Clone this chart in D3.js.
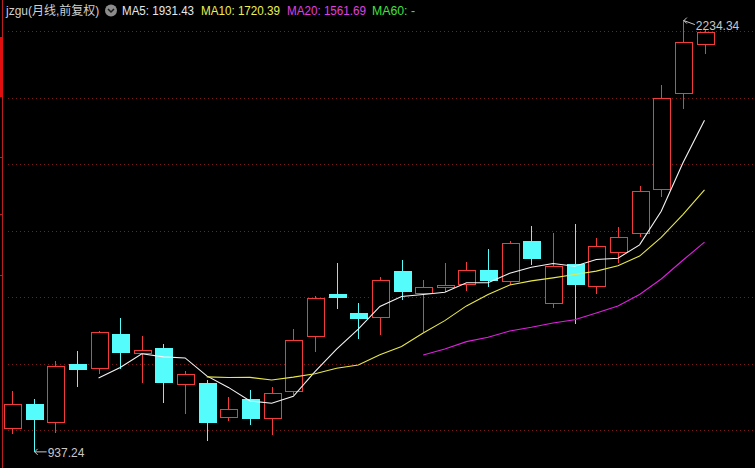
<!DOCTYPE html>
<html><head><meta charset="utf-8">
<script src="https://cdn.jsdelivr.net/npm/d3@7"></script>
<style>
html,body{margin:0;padding:0;background:#000;overflow:hidden;}
svg{display:block;}
text{font-family:"Liberation Sans","Noto Sans CJK SC",sans-serif;}
</style></head>
<body>
<svg id="c" width="755" height="468"></svg>
<script>
// ---- data (monthly bars) ----
const periods = ["1","2","3","4","5","6","7","8","9","10","11","12","13","14","15","16","17","18","19","20","21","22","23","24","25","26","27","28","29","30","31","32","33"];
const open  = [1005.1,1078.2,1025.0,1198.5,1187.4,1288.7,1230.7,1246.6,1137.4,1140.5,1040.0,1093.2,1037.0,1118.2,1283.6,1408.1,1352.8,1340.7,1478.2,1412.9,1429.2,1438.2,1481.2,1449.0,1567.5,1381.0,1498.3,1434.0,1536.2,1591.6,1723.9,2012.6,2160.0];
const high  = [1118.2,1093.2,1208.4,1237.6,1298.6,1335.9,1282.7,1258.6,1178.3,1150.4,1100.1,1120.3,1130.2,1303.8,1403.0,1503.2,1382.8,1461.0,1511.3,1451.1,1503.2,1506.2,1544.4,1567.5,1613.5,1591.6,1618.6,1578.3,1611.4,1734.7,2037.6,2234.34,2205.1];
const low   = [990.1,937.24,993.1,1132.3,1172.3,1185.6,1145.3,1085.1,1050.2,969.9,1030.1,1018.0,988.0,1107.4,1238.5,1367.8,1277.6,1288.7,1393.1,1298.6,1418.9,1421.1,1434.0,1438.2,1499.2,1370.8,1321.8,1411.1,1506.2,1583.5,1703.8,1969.3,2134.7];
const close = [1078.2,1034.0,1192.5,1183.5,1294.7,1235.5,1240.6,1145.3,1167.5,1025.0,1062.3,1037.0,1110.4,1270.7,1397.9,1400.9,1337.7,1451.1,1418.9,1429.2,1435.2,1480.3,1451.1,1561.5,1518.2,1493.2,1438.2,1553.4,1580.4,1718.8,1997.6,2166.0,2196.1];
const gridValues = [1000,1200,1400,1600,1800,2000,2200];
const maPeriods = [5,10,20];
const maColors = ["#f4f4f4","#e8e84a","#e020e0"];
const headerTitle = "jzgu(月线,前复权)";
const headerItems = [
  {label:"MA5: 1931.43", color:"#e8e8e8"},
  {label:"MA10: 1720.39", color:"#f0f050"},
  {label:"MA20: 1561.69", color:"#e040e0"},
  {label:"MA60: -", color:"#40e040"}
];
const maxLabel = "2234.34";
const minLabel = "937.24";

// ---- scales ----
const svg = d3.select("#c");
const x = d3.scalePoint().domain(periods).range([12, 704.5]);
const y = d3.scaleLinear().domain([1000, 2200]).range([430, 31]);
const RED = "#f23c3c", CYAN = "#54fcfc";
const px = v => Math.round(v) + 0.5;

// background
svg.append("rect").attr("width",755).attr("height",468).attr("fill","#000");

// grid
svg.append("g").selectAll("line").data(gridValues).join("line")
  .attr("x1",8).attr("x2",755)
  .attr("y1",d=>px(y(d))).attr("y2",d=>px(y(d)))
  .attr("stroke","#7a1c1c").attr("stroke-width",1)
  .attr("stroke-dasharray","1,3").attr("shape-rendering","crispEdges");

// left border
svg.append("line").attr("x1",2.5).attr("x2",2.5).attr("y1",0).attr("y2",468)
  .attr("stroke","#b82020").attr("shape-rendering","crispEdges");
svg.append("rect").attr("x",0).attr("y",37).attr("width",3).attr("height",60).attr("fill","#e01010");
[157,214,275].forEach(t=>svg.append("line").attr("x1",0).attr("x2",3).attr("y1",t+0.5).attr("y2",t+0.5).attr("stroke","#b82020"));

// candles
const bars = periods.map((p,i)=>({p, o:open[i], h:high[i], l:low[i], c:close[i]}));
const g = svg.append("g").attr("shape-rendering","crispEdges");
bars.forEach(d=>{
  const cx = Math.round(x(d.p));
  const up = d.c >= d.o;
  const top = Math.round(y(Math.max(d.o,d.c)));
  const bot = Math.round(y(Math.min(d.o,d.c)));
  const yh = Math.round(y(d.h)), yl = Math.round(y(d.l));
  if (up) {
    if (yh < top) g.append("line").attr("x1",cx+0.5).attr("x2",cx+0.5).attr("y1",yh).attr("y2",top).attr("stroke",RED);
    if (yl > bot) g.append("line").attr("x1",cx+0.5).attr("x2",cx+0.5).attr("y1",bot).attr("y2",yl+1).attr("stroke",RED);
    g.append("rect").attr("x",cx-8+0.5).attr("y",top+0.5).attr("width",17).attr("height",Math.max(1,bot-top))
      .attr("fill","#000").attr("stroke",RED).attr("stroke-width",1);
  } else {
    g.append("line").attr("x1",cx+0.5).attr("x2",cx+0.5).attr("y1",yh).attr("y2",yl+1).attr("stroke",CYAN);
    g.append("rect").attr("x",cx-8).attr("y",top).attr("width",18).attr("height",Math.max(2,bot-top+1)).attr("fill",CYAN);
  }
});

// moving averages from closes
maPeriods.forEach((n,k)=>{
  const pts = [];
  for (let i=n-1;i<close.length;i++) pts.push([periods[i], d3.mean(close.slice(i-n+1,i+1))]);
  svg.append("path").datum(pts)
    .attr("d", d3.line().x(d=>x(d[0])).y(d=>y(d[1])))
    .attr("fill","none").attr("stroke",maColors[k]).attr("stroke-width",1.1);
});

// header
const hdr = svg.append("g");
hdr.append("text").attr("x",6).attr("y",15).attr("font-size","12px").attr("fill","#d0d0d0").text(headerTitle);
hdr.append("circle").attr("cx",111).attr("cy",10.5).attr("r",6).attr("fill","#8c8c8c");
hdr.append("path").attr("d","M108,9 L111,12 L114,9").attr("fill","none").attr("stroke","#1a1a1a").attr("stroke-width",1.5);
const hx = [122, 201, 287, 372];
const hw = [72, 79, 79, 43];
headerItems.forEach((h,i)=>hdr.append("text").attr("x",hx[i]).attr("y",15).attr("font-size","12px")
  .attr("textLength",hw[i]).attr("lengthAdjust","spacingAndGlyphs").attr("fill",h.color).text(h.label));

// extreme labels
const iMax = high.indexOf(d3.max(high)), iMin = low.indexOf(d3.min(low));
const mx = x(periods[iMax]), my = y(high[iMax]);
svg.append("path").attr("d",`M${mx+1},${my+1} L${mx+12},${my+5} M${mx+1},${my+1} l3,-3 M${mx+1},${my+1} l3,3`)
  .attr("stroke","#c8c8c8").attr("fill","none");
svg.append("text").attr("x",mx+13).attr("y",my+10).attr("fill","#c8c8c8").attr("font-size","12px").text(maxLabel);
const nx = x(periods[iMin]), ny = y(low[iMin]);
svg.append("path").attr("d",`M${nx+1},${ny+1} L${nx+13},${ny+1} M${nx+1},${ny+1} l3,-3 M${nx+1},${ny+1} l3,3`)
  .attr("stroke","#c8c8c8").attr("fill","none");
svg.append("text").attr("x",nx+14).attr("y",ny+6).attr("fill","#c8c8c8").attr("font-size","12px").text(minLabel);
</script>
</body></html>
